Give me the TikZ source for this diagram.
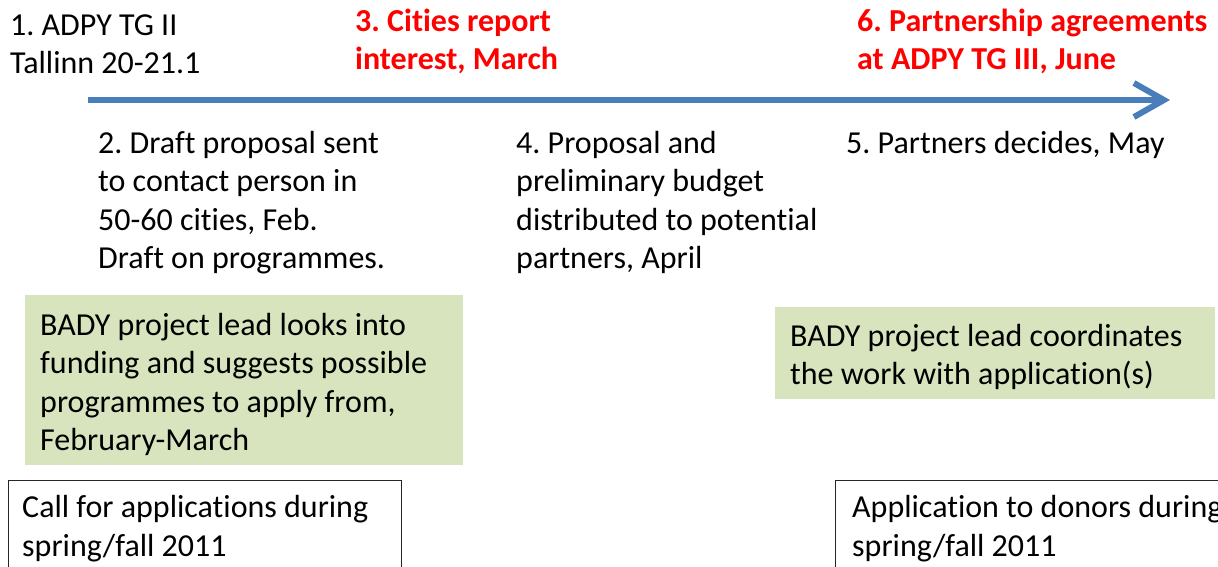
\documentclass[tikz,border=0pt]{standalone}
\usepackage{fontspec}
\setmainfont[Ligatures={NoCommon}]{Carlito}
\usetikzlibrary{arrows.meta}
\definecolor{arrowblue}{RGB}{74,126,187}
\definecolor{boxgreen}{RGB}{215,228,189}
\definecolor{redtext}{RGB}{255,0,0}
\frenchspacing
\begin{document}
\begin{tikzpicture}[x=1pt,y=-1pt,
  txt/.style={inner sep=0pt, anchor=base west, align=left, font=\fontsize{32}{38.5}\selectfont\frenchspacing},
  redtxt/.style={txt, text=redtext, font=\fontsize{32}{38.5}\selectfont\bfseries\frenchspacing},
  greenbox/.style={fill=boxgreen, draw=none, anchor=north west, inner sep=0pt},
  whitebox/.style={draw=black!85, line width=1pt, fill=white, anchor=north west, inner sep=0pt}]
\useasboundingbox (0,0) rectangle (1218,566);
\clip (0,0) rectangle (1218,566);

% timeline arrow
\coordinate (astart) at (88,100);
\coordinate (aend) at (1170,100);
\draw[arrowblue, line width=6pt, -{Straight Barb[length=30pt,width=34pt]}] (astart) -- (aend);

% top labels (anchor = baseline of last line)
\node[txt] (s1) at (10,73.5) {1. ADPY TG II\\Tallinn 20-21.1};
\node[redtxt] (s3) at (355,69.5) {3. Cities report\\interest, March};
\node[redtxt] (s6) at (857,69.5) {6. Partnership agreements\\at ADPY TG III, June};

% bottom labels
\node[txt] (s2) at (98,268.5) {2. Draft proposal sent\\to contact person in\\50-60 cities, Feb.\\Draft on programmes.};
\node[txt] (s4) at (516,268.5) {4. Proposal and\\preliminary budget\\distributed to potential\\partners, April};
\node[txt] (s5) at (846,153) {5. Partners decides, May};

% green boxes
\node[greenbox, minimum width=438pt, minimum height=170pt] (g1) at (25,295) {};
\node[txt] (g1t) at (40,450.5) {BADY project lead looks into\\funding and suggests possible\\programmes to apply from,\\February-March};
\node[greenbox, minimum width=440pt, minimum height=92pt] (g2) at (775,307) {};
\node[txt] (g2t) at (790,384.5) {BADY project lead coordinates\\the work with application(s)};

% white boxes
\node[whitebox, minimum width=393pt, minimum height=110pt] (w1) at (8,480) {};
\node[txt] (w1t) at (22,556) {Call for applications during\\spring/fall 2011};
\node[whitebox, minimum width=420pt, minimum height=110pt] (w2) at (835,480) {};
\node[txt] (w2t) at (852,556) {Application to donors during\\spring/fall 2011};
\end{tikzpicture}
\end{document}
